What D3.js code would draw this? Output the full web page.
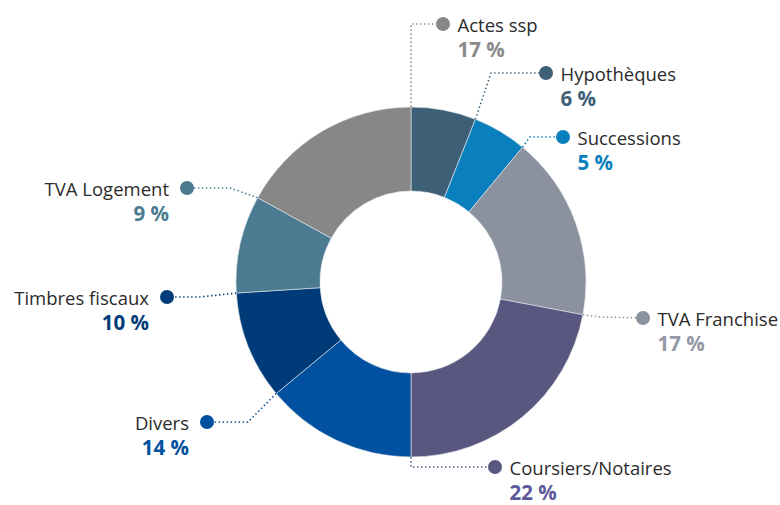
<!DOCTYPE html>
<html>
<head>
<meta charset="utf-8">
<script src="https://cdn.jsdelivr.net/npm/d3@7"></script>
<style>
  body { margin: 0; background: #fff; }
  svg { display: block; font-family: "Open Sans", sans-serif; }
</style>
</head>
<body>
<div id="chart"></div>
<script>
const width = 780;
const height = 505;

// Data, clockwise from the top
const categories = ["Hypothèques", "Successions", "TVA Franchise", "Coursiers/Notaires", "Divers", "Timbres fiscaux", "TVA Logement", "Actes ssp"];
const values = [6, 5, 17, 22, 14, 10, 9, 17];
const colors = ["#3e6077", "#0a7fbe", "#8b919e", "#59567f", "#0250a0", "#003b79", "#4b7b91", "#878787"];
const pctColors = ["#3e6077", "#0a7fbe", "#9298a4", "#5c5a9c", "#0250a0", "#003b79", "#4b7b91", "#8a8a8a"];

// Label layout: dot position, elbow of the leader, side of text
const labelPos = [
    { dx: 546, dy: 73, ex: 491, ey: 73, side: "right" },
    { dx: 563, dy: 137, ex: 530, ey: 137, side: "right" },
    { dx: 643, dy: 318, ex: 600, ey: 317, side: "right" },
    { dx: 495, dy: 467, ex: 411, ey: 467, side: "right" },
    { dx: 207, dy: 422, ex: 248, ey: 422, side: "left" },
    { dx: 167, dy: 297, ex: 200, ey: 297, side: "left" },
    { dx: 187, dy: 188, ex: 230, ey: 188, side: "left" },
    { dx: 443, dy: 24, ex: 411, ey: 24, side: "right" }
];

const cx = 411, cy = 282;
const outerR = 175, innerR = 91;

var svg = d3.select("#chart")
    .append("svg")
    .attr("width", width)
    .attr("height", height);

var data = categories.map((c, i) => ({ name: c, value: values[i], color: colors[i], pct: pctColors[i], pos: labelPos[i] }));

var pie = d3.pie()
    .sort(null)
    .value(d => d.value);

var arc = d3.arc()
    .innerRadius(innerR)
    .outerRadius(outerR);

var arcs = pie(data);

var g = svg.append("g")
    .attr("transform", `translate(${cx}, ${cy})`);

// Leader lines first (under slices)
var leaders = svg.append("g");
arcs.forEach(a => {
    var ang = a.endAngle;
    var sx = cx + outerR * Math.sin(ang);
    var sy = cy - outerR * Math.cos(ang);
    var p = a.data.pos;
    leaders.append("path")
        .attr("d", `M${sx},${sy}L${p.ex},${p.ey}L${p.dx},${p.dy}`)
        .attr("fill", "none")
        .style("stroke", a.data.color)
        .style("stroke-width", 1.6)
        .style("stroke-dasharray", "1.4,2.6");
});

// Slices
g.selectAll("path.slice")
    .data(arcs)
    .enter()
    .append("path")
    .attr("class", "slice")
    .attr("d", arc)
    .attr("fill", d => d.data.color)
    .style("stroke", "#e8ecf0")
    .style("stroke-width", 0.6);

// Labels
var labels = svg.append("g");
arcs.forEach(a => {
    var p = a.data.pos;
    labels.append("circle")
        .attr("cx", p.dx)
        .attr("cy", p.dy)
        .attr("r", 7)
        .attr("fill", a.data.color);

    var left = p.side === "left";
    var tx = left ? p.dx - 18 : p.dx + 14.5;
    var anchor = left ? "end" : "start";

    labels.append("text")
        .attr("x", tx)
        .attr("y", p.dy + 7.5)
        .attr("text-anchor", anchor)
        .attr("font-size", 18.5)
        .attr("fill", "#2b2b2b")
        .text(a.data.name);

    labels.append("text")
        .attr("x", tx)
        .attr("y", p.dy + 33)
        .attr("text-anchor", anchor)
        .attr("font-size", 20.5)
        .attr("font-weight", "bold")
        .attr("fill", a.data.pct)
        .text(a.data.value + " %");
});
</script>
</body>
</html>
